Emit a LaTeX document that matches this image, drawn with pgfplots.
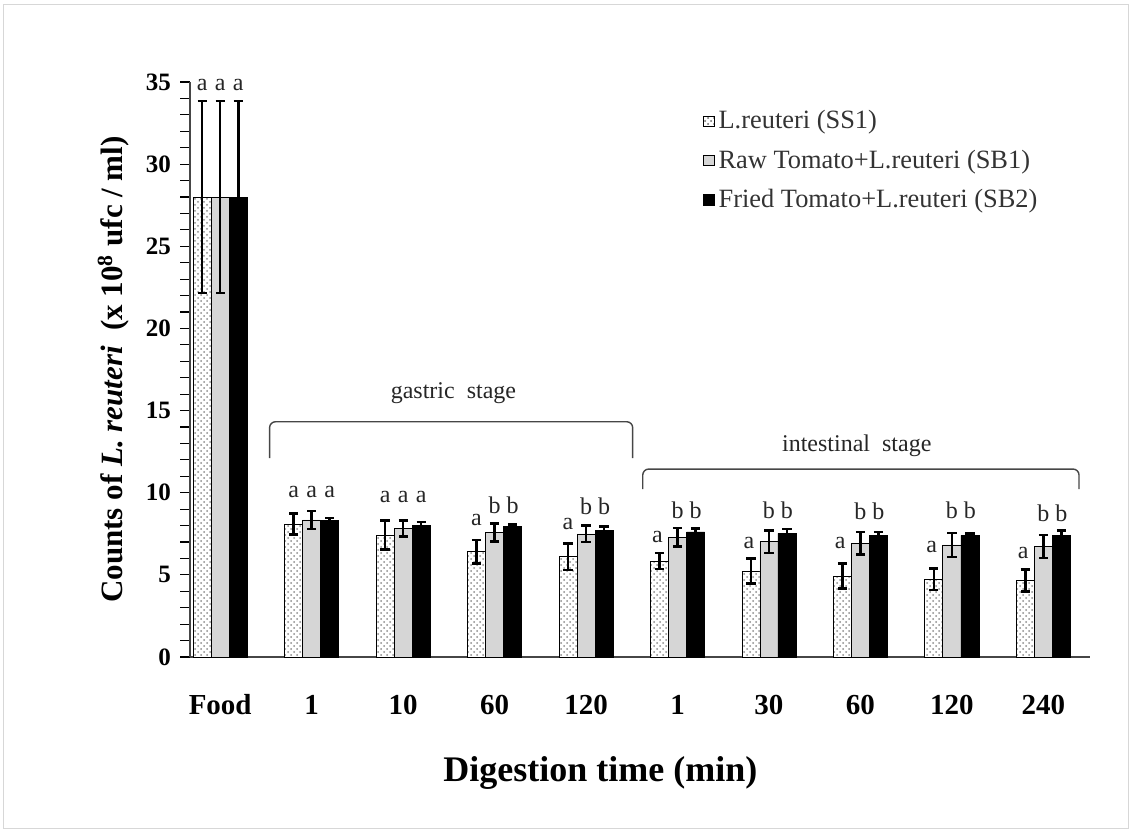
\documentclass[border=0pt]{standalone}
\usepackage{pgfplots}
\pgfplotsset{compat=1.18}
\usepackage{pgfplotstable}
\usetikzlibrary{patterns}
\usepackage{fontspec}
\setmainfont{Liberation Serif}

\definecolor{sbgray}{RGB}{214,214,214}
\definecolor{framegray}{RGB}{215,215,215}
\definecolor{axgray}{RGB}{70,70,70}

\pgfplotstableread{
x y e
0 28.00 5.85
1 8.09 0.65
2 7.42 0.88
3 6.41 0.72
4 6.10 0.81
5 5.84 0.48
6 5.23 0.76
7 4.93 0.76
8 4.73 0.65
9 4.65 0.66
}\ssone
\pgfplotstableread{
x y e
0 28.00 5.85
1 8.34 0.55
2 7.83 0.48
3 7.59 0.55
4 7.49 0.50
5 7.28 0.57
6 7.02 0.69
7 6.92 0.68
8 6.82 0.74
9 6.72 0.70
}\sbone
\pgfplotstableread{
x y e
0 28.00 5.85
1 8.30 0.15
2 8.01 0.20
3 7.93 0.15
4 7.73 0.20
5 7.61 0.20
6 7.53 0.25
7 7.42 0.20
8 7.40 0.12
9 7.40 0.30
}\sbtwo

\begin{document}
\begin{tikzpicture}
\path[use as bounding box] (0,0) rectangle (566pt,416pt);
\draw[framegray, line width=0.8pt] (1.8pt,1.8pt) rectangle (564.2pt,413.8pt);
\begin{axis}[
  at={(95pt,87.5pt)}, anchor=south west,
  scale only axis, width=450pt, height=287.5pt,
  clip=false,
  xmin=-0.33, xmax=9.51, ymin=0, ymax=35,
  axis x line*=bottom, axis y line*=left,
  axis line style={axgray, line width=0.9pt},
  ybar, bar width=0.197,
  xtick={0,...,9},
  xticklabels={Food,1,10,60,120,1,30,60,120,240},
  xtick style={draw=none},
  xticklabel style={font=\bfseries\fontsize{14.5}{16}\selectfont, text height=10pt, text depth=0pt, yshift=-10pt},
  ytick={0,5,...,35}, minor y tick num=4,
  tick align=outside, ytick pos=left,
  major tick length=5pt, minor tick length=5pt,
  y tick style={black, line width=0.6pt},
  yticklabel style={font=\bfseries\fontsize{12.5}{14}\selectfont, xshift=-1pt},
  /pgf/number format/assume math mode=true,
  ylabel={Counts of \textit{L. reuteri}\ \ (x 10\textsuperscript{8} ufc / ml)},
  ylabel style={font=\bfseries\fontsize{15.5}{17}\selectfont, at={(axis description cs:-0.085,0.5)}, anchor=center},
  xlabel={Digestion time (min)},
  xlabel style={font=\bfseries\fontsize{18}{20}\selectfont, at={(axis description cs:0.456,-0.2017)}, anchor=center},
  legend style={draw=none, fill=none, at={(axis description cs:0.57,0.958)}, anchor=north west,
    font=\fontsize{13.2}{15}\selectfont, row sep=5pt, text=black!80, inner sep=0pt,
    /tikz/every even column/.append style={column sep=1.5pt}},
  legend cell align=left,
  error bars/y dir=both, error bars/y explicit,
  error bars/error bar style={black, line width=1.3pt},
  error bars/error mark options={rotate=90, mark size=2.3pt, line width=1.3pt, black},
]
\addplot[bar shift=-0.197, draw=black, line width=0.4pt, fill=white,
  postaction={pattern=crosshatch dots, pattern color=black!45},
  legend image code/.code={\draw[black, line width=0.4pt, fill=white, postaction={pattern=crosshatch dots, pattern color=black!45}] (0pt,-2.6pt) rectangle (5.2pt,2.6pt);}]
  table[x=x, y=y, y error=e] {\ssone};
\addlegendentry{L.reuteri (SS1)}
\addplot[bar shift=0, draw=black, line width=0.4pt, fill=sbgray,
  legend image code/.code={\draw[black, line width=0.4pt, fill=sbgray] (0pt,-2.6pt) rectangle (5.2pt,2.6pt);}]
  table[x=x, y=y, y error=e] {\sbone};
\addlegendentry{Raw Tomato+L.reuteri (SB1)}
\addplot[bar shift=0.197, draw=black, line width=0.4pt, fill=black,
  legend image code/.code={\draw[black, line width=0.4pt, fill=black] (0pt,-2.6pt) rectangle (5.2pt,2.6pt);}]
  table[x=x, y=y, y error=e] {\sbtwo};
\addlegendentry{Fried Tomato+L.reuteri (SB2)}

% brackets
\draw[axgray, line width=0.7pt, rounded corners=3pt] (axis cs:0.54,12.11) -- (axis cs:0.54,14.32) -- (axis cs:4.51,14.32) -- (axis cs:4.51,12.11);
\draw[axgray, line width=0.7pt, rounded corners=3pt] (axis cs:4.62,10.22) -- (axis cs:4.62,11.44) -- (axis cs:9.39,11.44) -- (axis cs:9.39,10.22);
\node[font=\fontsize{12}{14}\selectfont, text=black!85] at (axis cs:2.55,16.07) {gastric\ \ stage};
\node[font=\fontsize{12}{14}\selectfont, text=black!85] at (axis cs:6.96,12.84) {intestinal\ \ stage};

% significance letters
\begin{scope}[every node/.style={font=\fontsize{12}{14}\selectfont, text=black!85, inner sep=0pt, anchor=center}]
\node at (axis cs:-0.197,34.8) {a}; \node at (axis cs:0,34.8) {a}; \node at (axis cs:0.197,34.8) {a};
\node at (axis cs:0.803,10.06) {a}; \node at (axis cs:1,10.06) {a}; \node at (axis cs:1.197,10.06) {a};
\node at (axis cs:1.803,9.76) {a}; \node at (axis cs:2,9.76) {a}; \node at (axis cs:2.197,9.76) {a};
\node at (axis cs:2.803,8.34) {a}; \node at (axis cs:3,9.25) {b}; \node at (axis cs:3.197,9.25) {b};
\node at (axis cs:3.803,8.07) {a}; \node at (axis cs:4,9.15) {b}; \node at (axis cs:4.197,9.15) {b};
\node at (axis cs:4.78,7.28) {a}; \node at (axis cs:5,8.95) {b}; \node at (axis cs:5.197,8.95) {b};
\node at (axis cs:5.78,6.92) {a}; \node at (axis cs:6,8.95) {b}; \node at (axis cs:6.197,8.95) {b};
\node at (axis cs:6.78,6.92) {a}; \node at (axis cs:7,8.85) {b}; \node at (axis cs:7.197,8.85) {b};
\node at (axis cs:7.78,6.72) {a}; \node at (axis cs:8,8.95) {b}; \node at (axis cs:8.197,8.95) {b};
\node at (axis cs:8.78,6.35) {a}; \node at (axis cs:9,8.75) {b}; \node at (axis cs:9.197,8.75) {b};
\end{scope}
\end{axis}
\end{tikzpicture}
\end{document}
